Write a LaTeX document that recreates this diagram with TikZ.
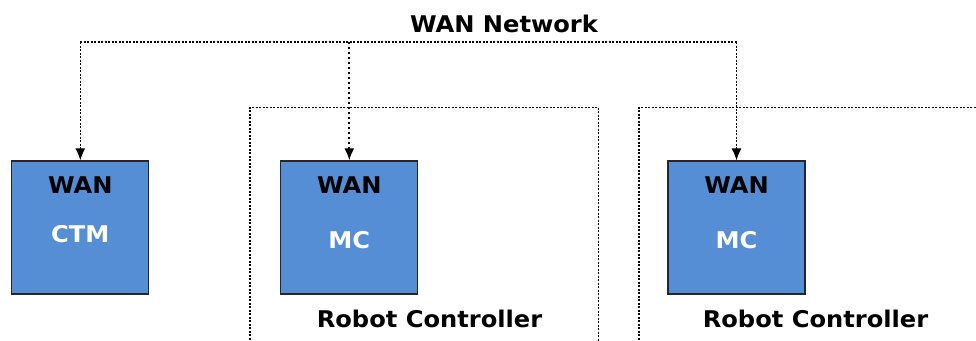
\documentclass[tikz,border=0pt]{standalone}
\usepackage{fontspec}
\setmainfont{DejaVu Sans}[FakeStretch=1.05]
\usetikzlibrary{arrows.meta}
\definecolor{boxblue}{RGB}{85,142,213}
\begin{document}
\begin{tikzpicture}[x=1pt,y=-1pt,
  unit/.style={draw=black!85, line width=1.2pt, fill=boxblue, minimum width=137pt, minimum height=133pt, inner sep=0pt},
  lbl/.style={font=\fontsize{23}{27}\selectfont\bfseries, inner sep=0pt},
  wlbl/.style={lbl, text=white},
  net/.style={dash pattern=on 2pt off 1.5pt, line width=1.3pt},
  netm/.style={dash pattern=on 2.2pt off 2.8pt, line width=2pt},
  tip/.style={-{Latex[length=12pt,width=10pt]}},
  container/.style={dash pattern=on 2pt off 1.5pt, line width=1.5pt}]
\useasboundingbox (0,0) rectangle (976,340);
\clip (0,0) rectangle (976,340);
% containers
\draw[container] (250,350) -- (250,107.3) -- (598.5,107.3) -- (598.5,350);
\draw[container] (639,350) -- (639,107.3) -- (990,107.3);
% boxes
\node[unit] (ctm) at (80.3,227.5) {};
\node[unit] (mc1) at (349.3,227.5) {};
\node[unit] (mc2) at (736.5,227.5) {};
\node[lbl] (ctmwan) at (80.3,185) {WAN};
\node[wlbl] (ctmname) at (80.3,234.5) {CTM};
\node[lbl] (mc1wan) at (349.3,185) {WAN};
\node[wlbl] (mc1name) at (349.3,240) {MC};
\node[lbl] (mc2wan) at (736.5,185) {WAN};
\node[wlbl] (mc2name) at (736.5,240) {MC};
\node[lbl] (rc1) at (429.5,318.5) {Robot Controller};
\node[lbl] (rc2) at (815.5,318.5) {Robot Controller};
\node[lbl] (netlbl) at (504,24) {WAN Network};
% network
\path (ctm.north) ++(0,-118.3) coordinate (wanL);
\path (mc1.north) ++(0,-118.3) coordinate (wanM);
\path (mc2.north) ++(0,-118.3) coordinate (wanR);
\draw[net] (wanL) -- (wanR);
\draw[net,tip] (wanL) -- (ctm.north);
\draw[netm,tip] (wanM) -- (mc1.north);
\draw[net,tip] (wanR) -- (mc2.north);
\end{tikzpicture}
\end{document}
